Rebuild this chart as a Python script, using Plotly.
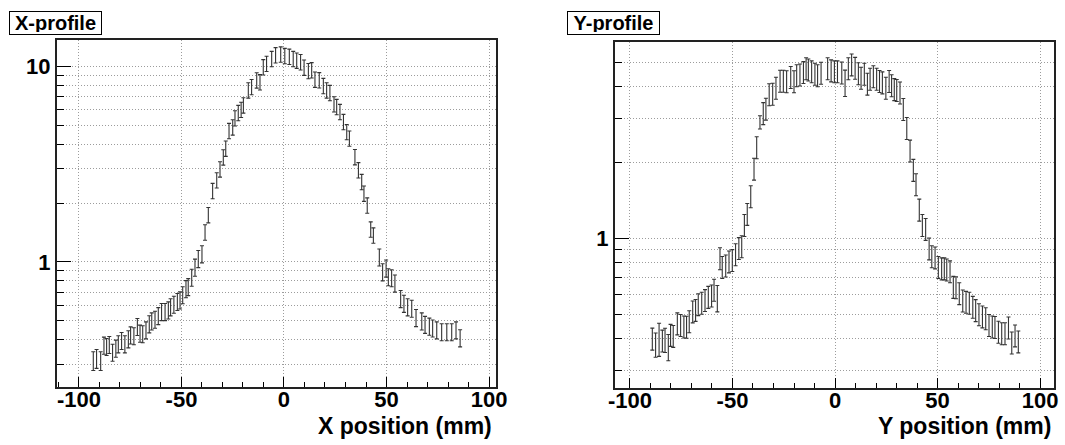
import plotly.graph_objects as go

W, H = 1065, 445

# ---------------- data: X-profile ----------------
x_pos = [-93.0, -91.4, -89.4, -87.8, -86.5, -85.2, -83.6, -82.0, -80.8, -79.2,
         -77.6, -75.9, -74.8, -73.2, -71.5, -70.2, -68.9, -67.3, -65.7, -64.5,
         -62.9, -61.3, -59.7, -58.0, -56.4, -55.3, -53.7, -52.0, -50.7, -49.4,
         -47.8, -46.7, -45.0, -43.4, -41.8, -40.0, -38.5, -36.9, -34.8, -32.8,
         -31.2, -29.6, -28.4, -26.8, -25.0, -23.9, -22.3, -20.9, -19.8, -17.4,
         -15.8, -13.3, -11.7, -10.1, -8.5, -6.0, -4.1, -1.6, 0.4, 2.6,
         4.5, 6.2, 8.1, 9.8, 11.9, 13.5, 15.1, 17.2, 19.2, 20.8,
         22.4, 24.4, 25.7, 27.3, 29.0, 30.6, 31.9, 34.6, 36.3, 37.9,
         39.0, 40.6, 42.3, 43.6, 46.5, 48.1, 49.8, 50.9, 52.5, 54.1,
         56.9, 58.5, 60.3, 62.3, 64.4, 67.2, 68.8, 70.9, 72.5, 74.5,
         76.9, 79.4, 81.8, 83.9, 85.9]
x_val = [0.314, 0.322, 0.314, 0.376, 0.370, 0.379, 0.346, 0.363, 0.382, 0.397,
         0.382, 0.405, 0.424, 0.420, 0.468, 0.433, 0.430, 0.450, 0.483, 0.500,
         0.510, 0.532, 0.558, 0.558, 0.569, 0.590, 0.608, 0.628, 0.640, 0.680,
         0.730, 0.748, 0.835, 0.940, 1.040, 1.100, 1.420, 1.740, 2.310, 2.620,
         2.980, 3.430, 3.800, 4.680, 4.880, 5.430, 5.780, 6.000, 6.320, 7.540,
         7.840, 8.480, 8.300, 9.900, 10.30, 10.90, 11.40, 11.50, 11.30, 11.20,
         10.90, 10.70, 10.50, 9.850, 9.460, 9.550, 8.550, 8.490, 7.940, 7.540,
         7.310, 6.400, 6.200, 5.850, 5.200, 4.620, 4.280, 3.440, 2.950, 2.570,
         2.240, 1.950, 1.470, 1.370, 1.060, 0.890, 0.930, 0.840, 0.830, 0.780,
         0.650, 0.615, 0.590, 0.580, 0.520, 0.500, 0.480, 0.470, 0.460, 0.450,
         0.440, 0.440, 0.440, 0.450, 0.410]
x_err_pct = [11, 11, 11, 10, 10, 10, 10, 10, 10, 10,
             10, 10, 10, 10, 10, 10, 10, 10, 10, 10,
             10, 10, 10, 10, 10, 10, 10, 10, 10, 10,
             10, 10, 10, 10, 10, 10, 9, 9, 9, 9,
             9, 9, 9, 9, 9, 9, 9, 9, 9, 9,
             9, 9, 9, 9, 9, 9, 9, 9, 9, 9,
             9, 9, 9, 9, 9, 9, 9, 9, 9, 9,
             9, 9, 9, 9, 9, 9, 9, 9, 9, 9,
             9, 9, 9, 9, 10, 10, 10, 10, 10, 10,
             10, 10, 10, 10, 10, 10, 10, 10, 10, 10,
             10, 10, 10, 10, 10]

# ---------------- data: Y-profile ----------------
y_pos = [-89.1, -87.5, -85.8, -84.2, -82.9, -81.3, -80.2, -78.9, -76.9, -75.3,
         -73.7, -72.4, -71.1, -69.4, -68.0, -66.7, -65.0, -63.4, -61.8, -60.2,
         -59.0, -57.4, -56.1, -55.0, -53.3, -51.7, -50.1, -48.5, -46.9, -45.5,
         -44.2, -42.8, -41.1, -39.5, -38.2, -36.6, -35.0, -33.7, -32.1, -30.4,
         -28.8, -26.8, -25.2, -23.6, -21.6, -20.0, -18.7, -17.1, -15.4, -14.1,
         -13.0, -11.4, -9.8, -8.5, -6.8, -3.6, -1.9, -0.3, 1.2, 3.3,
         4.9, 6.5, 8.1, 9.8, 11.4, 12.7, 14.3, 15.8, 17.1, 18.7,
         20.3, 21.7, 23.1, 24.8, 26.4, 27.6, 28.9, 30.1, 31.7, 33.3,
         35.0, 36.6, 38.2, 39.5, 41.1, 42.6, 44.2, 45.9, 47.2, 48.8,
         50.4, 52.0, 53.3, 54.5, 56.1, 57.7, 59.0, 60.6, 62.3, 63.9,
         65.5, 67.2, 68.6, 70.2, 71.9, 73.5, 75.1, 76.7, 78.0, 79.7,
         81.3, 82.9, 84.6, 86.2, 87.8, 89.4]
y_val = [0.400, 0.379, 0.400, 0.393, 0.396, 0.371, 0.414, 0.410, 0.460, 0.453,
         0.447, 0.446, 0.469, 0.513, 0.520, 0.548, 0.555, 0.569, 0.586, 0.593,
         0.625, 0.580, 0.834, 0.770, 0.780, 0.810, 0.820, 0.865, 0.915, 0.930,
         1.130, 1.250, 1.470, 1.890, 2.300, 2.890, 3.140, 3.270, 3.730, 3.750,
         3.960, 4.220, 4.220, 4.200, 4.370, 4.200, 4.440, 4.470, 4.570, 4.730,
         4.680, 4.600, 4.500, 4.440, 4.540, 4.730, 4.640, 4.600, 4.600, 4.550,
         4.150, 4.730, 4.900, 4.750, 4.520, 4.340, 4.500, 4.110, 4.300, 4.400,
         4.300, 4.210, 4.160, 3.960, 4.210, 4.050, 3.910, 3.880, 3.790, 3.260,
         2.740, 2.230, 1.870, 1.640, 1.300, 1.130, 1.090, 0.912, 0.849, 0.840,
         0.770, 0.760, 0.760, 0.752, 0.740, 0.642, 0.640, 0.606, 0.567, 0.560,
         0.555, 0.535, 0.519, 0.500, 0.490, 0.482, 0.453, 0.447, 0.445, 0.426,
         0.420, 0.420, 0.443, 0.386, 0.412, 0.390]
y_err_pct = [10, 11, 15, 10, 11, 12, 10, 10, 10, 10,
             10, 10, 10, 10, 10, 10, 10, 10, 10, 10,
             10, 12, 10, 10, 10, 10, 10, 10, 10, 10,
             10, 10, 10, 10, 10, 6, 10, 10, 10, 10,
             10, 10, 10, 10, 10, 10, 10, 10, 10, 10,
             10, 10, 10, 10, 10, 10, 10, 10, 10, 10,
             12, 10, 10, 10, 10, 10, 10, 10, 10, 10,
             10, 10, 10, 10, 10, 10, 10, 10, 10, 10,
             10, 10, 10, 10, 10, 10, 10, 10, 10, 10,
             10, 10, 10, 10, 10, 10, 10, 10, 10, 10,
             10, 10, 10, 10, 10, 10, 10, 10, 10, 10,
             10, 10, 10, 10, 10, 10]

x_ticks = [-100, -50, 0, 50, 100]
x_ticktext = ["-100", "-50", "0", "50", "100"]
left_titles = ("X-profile", "X position (mm)")
right_titles = ("Y-profile", "Y position (mm)")

FONT = "Liberation Sans, Arial, Helvetica, sans-serif"

def err(vals, pct):
    return [v * p / 100.0 for v, p in zip(vals, pct)]

fig = go.Figure()
fig.add_trace(go.Scatter(
    x=x_pos, y=x_val, mode="markers", xaxis="x", yaxis="y",
    marker=dict(size=2, color="rgba(0,0,0,0)"),
    error_y=dict(type="data", array=err(x_val, x_err_pct), symmetric=True,
                 color="#333333", thickness=1.1, width=2),
    showlegend=False, hoverinfo="skip"))
fig.add_trace(go.Scatter(
    x=y_pos, y=y_val, mode="markers", xaxis="x2", yaxis="y2",
    marker=dict(size=2, color="rgba(0,0,0,0)"),
    error_y=dict(type="data", array=err(y_val, y_err_pct), symmetric=True,
                 color="#333333", thickness=1.1, width=2),
    showlegend=False, hoverinfo="skip"))

def px_x(p):
    return p / W

def px_y(p):
    return 1 - p / H

tickfont = dict(family=FONT, size=22, color="black", weight="bold")
grid = dict(gridcolor="#9c9c9c", griddash="1px,2px", gridwidth=1)

def xaxis(dom, rng, anchor):
    return dict(domain=dom, range=rng, anchor=anchor, tickmode="array",
                tickvals=x_ticks, ticktext=x_ticktext, ticks="inside",
                ticklen=10, tickwidth=1, tickcolor="black", tickfont=tickfont,
                ticklabelstandoff=-8,
                showgrid=True, **grid, zeroline=False, showline=True,
                linecolor="#222", linewidth=2, mirror=True,
                minor=dict(dtick=10, tick0=0, ticks="inside", ticklen=5,
                           tickwidth=1, tickcolor="black", showgrid=False),
                automargin=False, fixedrange=True)

def yaxis(dom, rng, anchor, minors):
    return dict(domain=dom, range=rng, anchor=anchor, type="log",
                tickmode="array", tickvals=[1, 10], ticktext=["1", "10"],
                ticks="inside", ticklen=14, tickwidth=1, tickcolor="black",
                tickfont=tickfont, showgrid=True, **grid, zeroline=False,
                showline=True, linecolor="#222", linewidth=2, mirror=True,
                minor=dict(tickmode="array", tickvals=minors, ticks="inside",
                           ticklen=7, tickwidth=1, tickcolor="black",
                           showgrid=True, **grid),
                automargin=False, fixedrange=True)

minor_left = [0.3, 0.4, 0.5, 0.6, 0.7, 0.8, 0.9, 2, 3, 4, 5, 6, 7, 8, 9]
minor_right = [0.3, 0.4, 0.5, 0.6, 0.7, 0.8, 0.9, 2, 3, 4, 5]

fig.update_layout(
    width=W, height=H, margin=dict(l=0, r=0, t=0, b=0),
    paper_bgcolor="white", plot_bgcolor="white",
    xaxis=xaxis([px_x(57), px_x(496)], [-110.7, 103.4], "y"),
    yaxis=yaxis([px_y(387), px_y(40)], [-0.638, 1.133], "x", minor_left),
    xaxis2=xaxis([px_x(615), px_x(1054)], [-107.3, 106.8], "y2"),
    yaxis2=yaxis([px_y(388), px_y(42)], [-0.594, 0.779], "x2", minor_right),
)

ann = []
for (title, axt), bx, right_edge in ((left_titles, 9, 494), (right_titles, 567, 1053)):
    ann.append(dict(text=title, xref="paper", yref="paper",
                    x=px_x(bx), y=px_y(11), xanchor="left", yanchor="top",
                    showarrow=False, width=87, height=18, borderpad=2,
                    bordercolor="black", borderwidth=1, bgcolor="white",
                    font=dict(family=FONT, size=20, color="black", weight="bold")))
    ann.append(dict(text=axt, xref="paper", yref="paper",
                    x=px_x(right_edge), y=px_y(426), xanchor="right",
                    yanchor="middle", showarrow=False,
                    font=dict(family=FONT, size=23, color="black", weight="bold")))
fig.update_layout(annotations=ann)

fig.write_html("out.html")
